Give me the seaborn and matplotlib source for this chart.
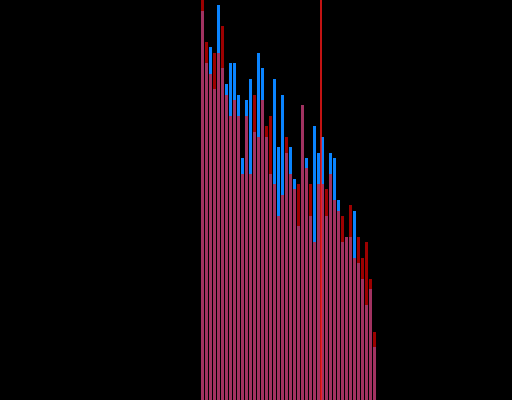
"""
Overlapping count bars (blue vs red) on a black canvas with a marker line
"""
import numpy as np
import pandas as pd
import matplotlib
matplotlib.use('Agg')
import matplotlib.pyplot as plt
import seaborn as sns

# bin index (one per bar)
bins = list(range(44))

# counts per bin
blue_counts = [74, 64, 67, 59, 75, 63, 60, 64, 64, 58, 46, 57, 61, 51, 66, 63,
               50, 43, 61, 48, 58, 47, 48, 42, 33, 56, 46, 35, 52, 47, 50, 35,
               47, 46, 38, 30, 31, 31, 36, 26, 23, 18, 21, 10]
red_counts = [80, 68, 62, 66, 66, 71, 58, 54, 57, 54, 43, 54, 43, 58, 50, 57,
              52, 54, 41, 35, 39, 50, 43, 40, 41, 56, 44, 41, 30, 41, 41, 40,
              43, 38, 36, 35, 31, 37, 27, 31, 27, 30, 23, 13]

# marker position (between bins 29 and 30)
marker_x = 29.5

blue_df = pd.DataFrame({'bin': bins, 'count': blue_counts})
red_df = pd.DataFrame({'bin': bins, 'count': red_counts})

sns.set_theme(style='dark')

fig = plt.figure(figsize=(5.12, 4.0), dpi=100, facecolor='black')
ax = fig.add_axes([0, 0, 1, 1])
ax.set_facecolor('black')

# blue series first, opaque
sns.barplot(data=blue_df, x='bin', y='count', native_scale=True,
            color='#0a84ff', saturation=1, width=0.75, errorbar=None,
            linewidth=0, ax=ax)
# red series on top, semi-transparent
sns.barplot(data=red_df, x='bin', y='count', native_scale=True,
            color='#ff0000', saturation=1, width=0.75, errorbar=None,
            alpha=0.62, linewidth=0, ax=ax)

ax.axvline(marker_x, color='#ff1a1a', linewidth=1.1)

ax.set_xlim(-50.625, 77.375)
ax.set_ylim(0, 76)
ax.set_axis_off()

plt.savefig('out.png', dpi=100, facecolor='black')
